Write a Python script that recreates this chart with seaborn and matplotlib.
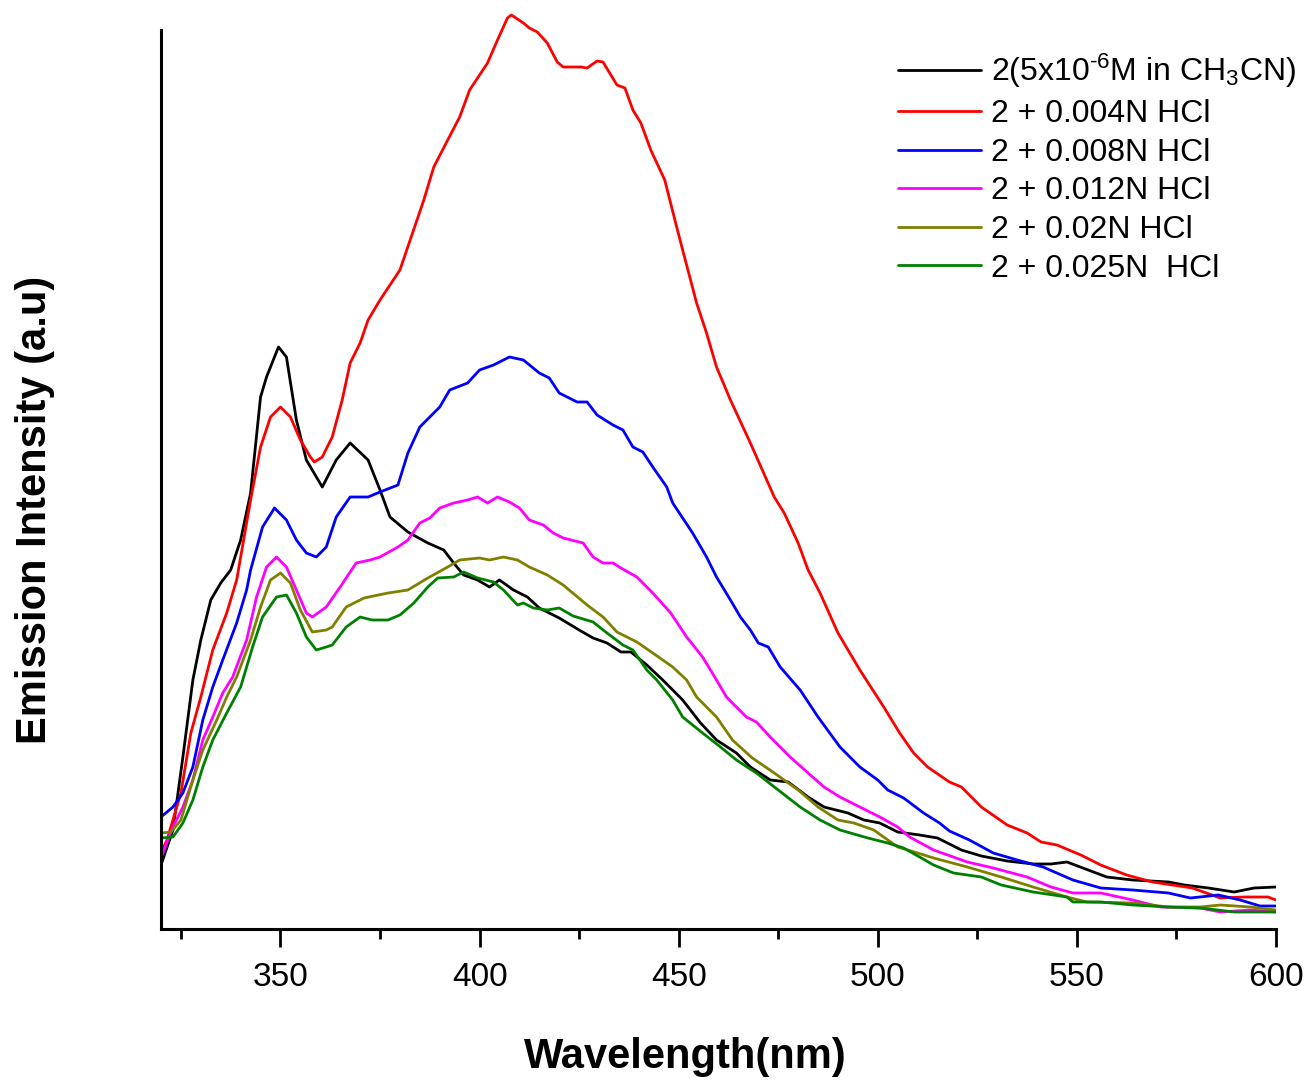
import numpy as np
import pandas as pd
import matplotlib
matplotlib.use("Agg")
import matplotlib.pyplot as plt
from matplotlib.ticker import MultipleLocator, NullLocator
import seaborn as sns

# ---------------- data ----------------
w_black = [320, 323, 325.5, 328, 330, 332.5, 335, 337.5, 340, 342.5, 345, 346.5, 349.5, 351.5, 354, 356.5,
           360.5, 364, 367.5, 372, 375, 377.5, 382, 387, 391, 393.5, 396, 399.5, 402.5, 405, 408.5, 412,
           415, 420, 425, 428.5, 432, 435.5, 438, 442, 446, 451, 455.5, 459.5, 464.5, 468, 473, 477.5,
           482.5, 486.5, 492.5, 496.5, 500.5, 505, 510.5, 515, 521, 526, 532.5, 539, 543.5, 547.5, 551.5,
           557.5, 564, 573, 577, 583, 589.5, 594.5, 600]
i_black = [64, 99, 172, 249, 289, 329, 346, 359, 389, 436, 532, 552, 582, 572, 509, 469,
           442, 469, 486, 469, 439, 412, 397, 386, 379, 366, 354, 349, 342, 349, 339, 332,
           321, 311, 299, 291, 286, 277, 277, 264, 249, 229, 206, 189, 176, 162, 149, 147,
           132, 122, 116, 109, 106, 97, 94, 91, 79, 73, 68, 65, 65, 67, 61,
           52, 49, 47, 44, 41, 37, 41, 42]

w_red = [320, 321.5, 325, 327.5, 330, 333, 336.5, 339, 342.5, 345, 347.5, 350, 352.5, 355, 357.5, 358.5,
         360.5, 363, 365.5, 367.5, 370, 372, 375, 380, 386, 388.5, 392, 395, 397.5, 402, 404.5, 407,
         408, 411, 412.5, 414.5, 417, 419.5, 421, 425.5, 427, 429.5, 431, 434.5, 436.5, 438.5, 440.5,
         443, 446.5, 449.5, 451, 454.5, 457, 459.5, 463, 468, 471, 474, 476.5, 480, 482.5, 485.5, 490,
         495.5, 501.5, 505.5, 509, 512.5, 518, 521, 526, 532.5, 537.5, 541, 545, 551, 556, 562.5, 569,
         579, 586, 592, 598, 600]
i_red = [76, 89, 136, 196, 232, 279, 316, 349, 429, 482, 512, 522, 512, 489, 472, 467,
         472, 492, 529, 566, 586, 609, 629, 659, 729, 762, 789, 812, 839, 866, 889, 911,
         914, 906, 901, 897, 886, 867, 862, 862, 861, 868, 867, 844, 841, 819, 806,
         779, 749, 702, 679, 626, 596, 562, 529, 486, 459, 432, 416, 386, 359, 336, 296,
         259, 222, 196, 176, 162, 147, 142, 122, 104, 96, 87, 84, 74, 64, 54, 47,
         41, 31, 32, 32, 29]

w_blue = [320, 323, 325.5, 328, 330.5, 333, 335.5, 339, 341.5, 342.5, 345.5, 348.5, 351.5, 354, 356.5, 359,
          361.5, 364, 367.5, 372, 375, 379.5, 382, 385, 390, 392.5, 397, 400, 403.5, 407.5, 411, 415,
          417.5, 420, 424.5, 427, 429.5, 433.5, 436, 438.5, 441, 443.5, 447, 448.5, 453.5, 457, 459.5,
          463, 465.5, 468, 470, 472.5, 475.5, 480.5, 485, 490.5, 495.5, 500, 502.5, 506.5, 511.5, 515.5,
          518, 523, 529, 535, 541.5, 549, 556, 564, 573, 578.5, 585.5, 591, 596, 600]
i_blue = [112, 122, 136, 162, 209, 242, 269, 306, 339, 359, 402, 421, 409, 389, 376, 372,
          382, 412, 432, 432, 437, 444, 476, 502, 522, 539, 546, 559, 564, 572, 569, 556,
          551, 536, 527, 527, 514, 504, 499, 482, 477, 462, 442, 426, 396, 372, 352,
          329, 312, 299, 286, 282, 262, 239, 212, 182, 162, 149, 139, 131, 116, 106,
          98, 89, 76, 69, 62, 49, 41, 39, 36, 31, 34, 29, 23, 23]

w_mag = [320, 323, 325.5, 328, 330.5, 333, 335.5, 338, 341.5, 344, 346.5, 349, 351.5, 354, 356.5, 358,
         361.5, 365, 369, 372.5, 375, 379.5, 382, 385, 387.5, 390, 393.5, 397, 399.5, 402, 404.5, 407.5,
         410, 412.5, 416, 418.5, 421, 426, 428.5, 431, 433.5, 435.5, 439.5, 443.5, 448, 452, 456, 459.5,
         462, 467, 469.5, 473, 478, 482.5, 486.5, 490.5, 495.5, 500.5, 505, 508, 514, 522.5, 529, 537.5,
         543.5, 549, 556, 564, 571, 581, 586, 593.5, 600]
i_mag = [71, 102, 122, 149, 189, 212, 236, 252, 289, 332, 362, 372, 362, 339, 316, 312,
         322, 342, 366, 369, 372, 382, 389, 406, 411, 421, 426, 429, 432, 426, 432, 427,
         421, 409, 404, 396, 391, 386, 372, 366, 366, 361, 352, 336, 316, 292, 272, 249,
         232, 212, 207, 192, 172, 156, 142, 132, 122, 112, 102, 92, 79, 67, 61, 52,
         42, 36, 36, 29, 22, 21, 17, 19, 17]

w_olive = [320, 322.5, 325, 326.5, 328, 330.5, 334, 336.5, 339, 342.5, 345, 347.5, 350, 352.5, 355, 358,
           361.5, 363, 366.5, 371, 377, 382, 387, 392, 395, 400, 402.5, 406, 409.5, 412.5, 417, 421,
           427, 431, 434.5, 439.5, 443.5, 448.5, 452, 454.5, 459.5, 463.5, 468.5, 474, 480, 485, 490,
           494, 499, 505, 510, 514, 522.5, 531, 539, 547.5, 552.5, 564, 573, 581, 586, 593.5, 600]
i_olive = [96, 97, 109, 129, 149, 179, 209, 232, 252, 289, 322, 349, 356, 346, 319, 297,
           299, 302, 322, 331, 336, 339, 351, 362, 369, 371, 369, 372, 369, 362, 354, 344,
           324, 312, 297, 287, 276, 262, 249, 232, 212, 189, 171, 156, 139, 122, 109,
           106, 99, 82, 76, 71, 62, 52, 42, 32, 27, 26, 22, 22, 24, 22, 19]

w_green = [320, 323, 325.5, 328, 330.5, 333, 336.5, 340, 343, 345.5, 349, 351.5, 354, 356.5, 359, 361.5,
           363, 366.5, 370, 373, 377, 380, 383.5, 387, 389.5, 393.5, 396, 399.5, 403.5, 406, 409.5, 411,
           413.5, 417, 420, 423.5, 428.5, 432, 436, 438.5, 442, 444.5, 448.5, 451, 456, 460.5, 464.5,
           469.5, 475, 480.5, 485.5, 490.5, 497.5, 502.5, 506.5, 510.5, 514, 519, 526, 531, 539, 547.5,
           549, 556, 564, 573, 581, 589.5, 600]
i_green = [91, 92, 106, 129, 162, 189, 216, 242, 282, 312, 332, 334, 316, 292, 279, 282,
           284, 302, 312, 309, 309, 314, 326, 342, 351, 352, 357, 351, 347, 339, 324, 326,
           321, 319, 321, 313, 307, 296, 284, 279, 259, 249, 229, 212, 196, 182, 169,
           156, 139, 122, 109, 99, 91, 86, 81, 72, 64, 56, 52, 44, 37, 32,
           27, 27, 24, 22, 21, 17, 17]

labels = ["2(5x10$^{\\mathregular{\u2010}6}$M in CH$_{\\mathregular{3}}$CN)",
          "2 + 0.004N HCl", "2 + 0.008N HCl", "2 + 0.012N HCl",
          "2 + 0.02N HCl", "2 + 0.025N  HCl"]
colors = ["#000000", "#FF0000", "#0000FF", "#FF00FF", "#808000", "#008000"]
xticks = [350, 400, 450, 500, 550, 600]

series = [(w_black, i_black), (w_red, i_red), (w_blue, i_blue),
          (w_mag, i_mag), (w_olive, i_olive), (w_green, i_green)]
frames = []
for lab, (w, i) in zip(labels, series):
    frames.append(pd.DataFrame({"Wavelength": w, "Intensity": i, "Sample": lab}))
df = pd.concat(frames, ignore_index=True)

# ---------------- plot ----------------
sns.set_theme(style="white")
plt.rcParams["font.family"] = ["Liberation Sans", "DejaVu Sans"]
plt.rcParams["mathtext.fontset"] = "custom"
plt.rcParams["mathtext.rm"] = "Liberation Sans"
plt.rcParams["mathtext.it"] = "Liberation Sans"
plt.rcParams["text.color"] = "black"
plt.rcParams["axes.labelcolor"] = "black"
plt.rcParams["xtick.color"] = "black"
plt.rcParams["ytick.color"] = "black"

YTOP = 922
fig = plt.figure(figsize=(13.1, 10.83), dpi=100)
ax = fig.add_axes([161 / 1310, (1083 - 929) / 1083, 1115 / 1310, YTOP / 1083])

sns.lineplot(data=df, x="Wavelength", y="Intensity", hue="Sample",
             hue_order=labels, palette=dict(zip(labels, colors)),
             estimator=None, sort=True, linewidth=2.0, ax=ax)

ax.set_xlim(320, 600)
ax.set_ylim(0, YTOP)
ax.set_xticks(xticks)
ax.xaxis.set_minor_locator(MultipleLocator(25))
ax.yaxis.set_major_locator(NullLocator())
ax.tick_params(axis="x", which="major", direction="out", length=13, width=2,
               labelsize=24, pad=11, bottom=True, color="black", labelcolor="black")
ax.tick_params(axis="x", which="minor", direction="out", length=7, width=2,
               bottom=True, color="black")

for s in ["top", "right"]:
    ax.spines[s].set_visible(False)
for s in ["left", "bottom"]:
    ax.spines[s].set_color("black")
    ax.spines[s].set_linewidth(2.2)
ax.spines["left"].set_bounds(0, 899)

ax.set_xlabel("Wavelength(nm)", fontsize=30, fontweight="bold", color="black")
ax.set_ylabel("Emission Intensity (a.u)", fontsize=30, fontweight="bold", color="black")
ax.xaxis.set_label_coords(0.47, -0.117)
ax.yaxis.set_label_coords(-0.095, 0.455)

leg = ax.legend(loc="upper left", bbox_to_anchor=(0.661, 0.951), frameon=False,
                fontsize=23, handlelength=2.6, handletextpad=0.3, labelspacing=0.27,
                borderpad=0, borderaxespad=0)
for line in leg.get_lines():
    line.set_linewidth(2.0)
for t in leg.get_texts():
    t.set_color("black")

fig.savefig("out.png", dpi=100)
